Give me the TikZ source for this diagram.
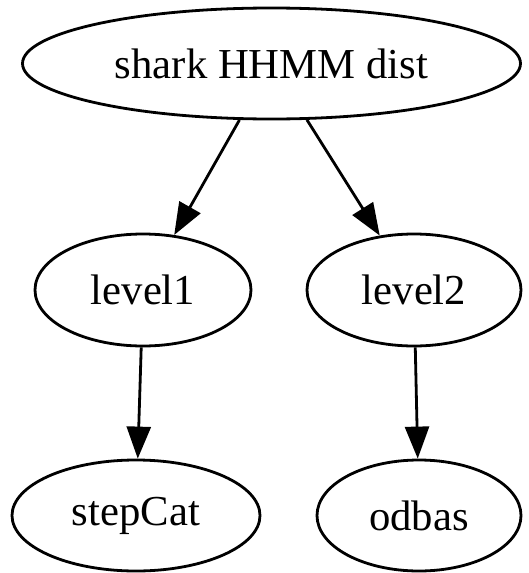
\documentclass[tikz,border=0pt]{standalone}
\usepackage{fontspec}
\setmainfont{Liberation Serif}
\usetikzlibrary{shapes.geometric,arrows.meta}
\begin{document}
\begin{tikzpicture}[x=1pt,y=-1pt,
  gnode/.style={draw,ellipse,line width=2.8pt,inner sep=0pt,font=\fontsize{42.7}{50}\selectfont},
  gedge/.style={line width=2.8pt,-{Triangle[length=32pt,width=24pt]}}]
\useasboundingbox (0,0) rectangle (529,573);
\node[gnode,minimum width=498pt,minimum height=111pt] (top) at (271.5,63.5) {shark HHMM dist};
\node[gnode,minimum width=216pt,minimum height=112pt] (l1) at (143,290) {level1};
\node[gnode,minimum width=214pt,minimum height=112pt] (l2) at (414,290) {level2};
\node[gnode,minimum width=248pt,minimum height=111pt] (sc) at (136,515.5) {stepCat};
\node[gnode,minimum width=204pt,minimum height=111pt] (od) at (419,515.5) {odbas};
\draw[gedge] (top) -- (l1);
\draw[gedge] (top) -- (l2);
\draw[gedge] (l1) -- (sc);
\draw[gedge] (l2) -- (od);
\end{tikzpicture}
\end{document}
